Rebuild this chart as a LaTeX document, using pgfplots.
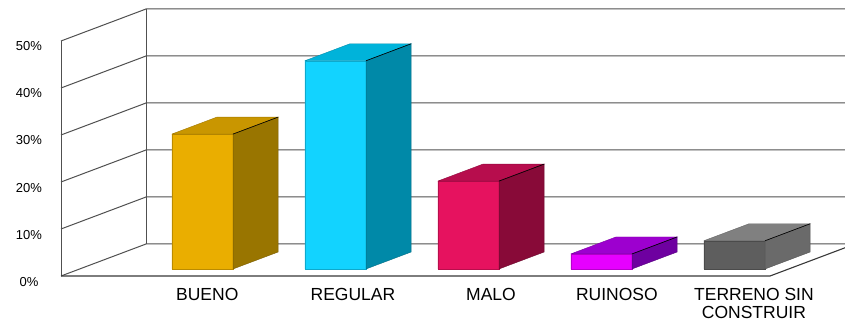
\documentclass[border=0pt]{standalone}
\usepackage{pgfplots}
\pgfplotsset{compat=1.18}
\usepackage{fontspec}
\setmainfont{Liberation Sans}
\newcommand{\cf}{\fontsize{17.5}{19}\selectfont}
\newcommand{\tf}{\fontsize{13}{15}\selectfont}
\definecolor{gridc}{RGB}{80,80,80}
\definecolor{aF}{RGB}{234,174,0}\definecolor{aT}{RGB}{201,150,0}\definecolor{aS}{RGB}{153,117,0}
\definecolor{bF}{RGB}{18,211,255}\definecolor{bT}{RGB}{0,179,218}\definecolor{bS}{RGB}{0,137,168}
\definecolor{cF}{RGB}{230,18,95}\definecolor{cT}{RGB}{183,13,77}\definecolor{cS}{RGB}{136,10,56}
\definecolor{dF}{RGB}{230,0,255}\definecolor{dT}{RGB}{157,0,207}\definecolor{dS}{RGB}{110,0,160}
\definecolor{eF}{RGB}{94,94,94}\definecolor{eT}{RGB}{128,128,128}\definecolor{eS}{RGB}{106,106,106}
\begin{document}
\begin{tikzpicture}
\path[use as bounding box] (0,0) rectangle (845pt,324pt);
\clip (0,0) rectangle (845pt,324pt);
\fill[white] (0,0) rectangle (845pt,324pt);
\begin{axis}[
  anchor=origin, at={(61pt,48pt)},
  x={(133pt,0pt)}, y={(85pt,32pt)}, z={(0pt,4.7pt)},
  xmin=0, xmax=5.331, ymin=0, ymax=1, zmin=0, zmax=50,
  hide axis, clip=false,
]
% walls and grid
\addplot3[gridc, line width=1pt] coordinates {(0,0,0) (0,1,0) (5.331,1,0)};
\addplot3[gridc, line width=1pt] coordinates {(0,0,10) (0,1,10) (5.331,1,10)};
\addplot3[gridc, line width=1pt] coordinates {(0,0,20) (0,1,20) (5.331,1,20)};
\addplot3[gridc, line width=1pt] coordinates {(0,0,30) (0,1,30) (5.331,1,30)};
\addplot3[gridc, line width=1pt] coordinates {(0,0,40) (0,1,40) (5.331,1,40)};
\addplot3[gridc, line width=1pt] coordinates {(0,0,50) (0,1,50) (5.331,1,50)};
\addplot3[gridc, line width=1pt] coordinates {(0,0,0) (0,0,50)};
\addplot3[gridc, line width=1pt] coordinates {(0,1,0) (0,1,50)};
\addplot3[gridc!70!black, line width=1.1pt] coordinates {(0,0,0) (5.331,0,0) (5.331,1,0)};
% tick labels
\node[anchor=base, font=\tf, xshift=-32pt, yshift=-10pt] at (axis cs:0,0,0) {0\%};
\node[anchor=base, font=\tf, xshift=-32pt, yshift=-10pt] at (axis cs:0,0,10) {10\%};
\node[anchor=base, font=\tf, xshift=-32pt, yshift=-10pt] at (axis cs:0,0,20) {20\%};
\node[anchor=base, font=\tf, xshift=-32pt, yshift=-10pt] at (axis cs:0,0,30) {30\%};
\node[anchor=base, font=\tf, xshift=-32pt, yshift=-10pt] at (axis cs:0,0,40) {40\%};
\node[anchor=base, font=\tf, xshift=-32pt, yshift=-10pt] at (axis cs:0,0,50) {50\%};
% BUENO 28.7
\addplot3[fill=aF, draw=aF!80!black, line width=0.4pt] coordinates {(0.693,0.22,0) (1.153,0.22,0) (1.153,0.22,28.7) (0.693,0.22,28.7) (0.693,0.22,0)};
\addplot3[fill=aT, draw=aT!80!black, line width=0.4pt] coordinates {(0.693,0.22,28.7) (1.153,0.22,28.7) (1.153,0.75,28.7) (0.693,0.75,28.7) (0.693,0.22,28.7)};
\addplot3[fill=aS, draw=aS!80!black, line width=0.4pt] coordinates {(1.153,0.22,0) (1.153,0.75,0) (1.153,0.75,28.7) (1.153,0.22,28.7) (1.153,0.22,0)};
\addplot3[black, line width=0.6pt] coordinates {(1.153,0.22,28.7) (1.153,0.75,28.7)};
% REGULAR 44.3
\addplot3[fill=bF, draw=bF!80!black, line width=0.4pt] coordinates {(1.693,0.22,0) (2.153,0.22,0) (2.153,0.22,44.3) (1.693,0.22,44.3) (1.693,0.22,0)};
\addplot3[fill=bT, draw=bT!80!black, line width=0.4pt] coordinates {(1.693,0.22,44.3) (2.153,0.22,44.3) (2.153,0.75,44.3) (1.693,0.75,44.3) (1.693,0.22,44.3)};
\addplot3[fill=bS, draw=bS!80!black, line width=0.4pt] coordinates {(2.153,0.22,0) (2.153,0.75,0) (2.153,0.75,44.3) (2.153,0.22,44.3) (2.153,0.22,0)};
\addplot3[black, line width=0.6pt] coordinates {(2.153,0.22,44.3) (2.153,0.75,44.3)};
% MALO 18.7
\addplot3[fill=cF, draw=cF!80!black, line width=0.4pt] coordinates {(2.693,0.22,0) (3.153,0.22,0) (3.153,0.22,18.7) (2.693,0.22,18.7) (2.693,0.22,0)};
\addplot3[fill=cT, draw=cT!80!black, line width=0.4pt] coordinates {(2.693,0.22,18.7) (3.153,0.22,18.7) (3.153,0.75,18.7) (2.693,0.75,18.7) (2.693,0.22,18.7)};
\addplot3[fill=cS, draw=cS!80!black, line width=0.4pt] coordinates {(3.153,0.22,0) (3.153,0.75,0) (3.153,0.75,18.7) (3.153,0.22,18.7) (3.153,0.22,0)};
\addplot3[black, line width=0.6pt] coordinates {(3.153,0.22,18.7) (3.153,0.75,18.7)};
% RUINOSO 3.2
\addplot3[fill=dF, draw=dF!80!black, line width=0.4pt] coordinates {(3.693,0.22,0) (4.153,0.22,0) (4.153,0.22,3.2) (3.693,0.22,3.2) (3.693,0.22,0)};
\addplot3[fill=dT, draw=dT!80!black, line width=0.4pt] coordinates {(3.693,0.22,3.2) (4.153,0.22,3.2) (4.153,0.75,3.2) (3.693,0.75,3.2) (3.693,0.22,3.2)};
\addplot3[fill=dS, draw=dS!80!black, line width=0.4pt] coordinates {(4.153,0.22,0) (4.153,0.75,0) (4.153,0.75,3.2) (4.153,0.22,3.2) (4.153,0.22,0)};
\addplot3[black, line width=0.6pt] coordinates {(4.153,0.22,3.2) (4.153,0.75,3.2)};
% TERRENO SIN CONSTRUIR 6.0
\addplot3[fill=eF, draw=eF!80!black, line width=0.4pt] coordinates {(4.693,0.22,0) (5.153,0.22,0) (5.153,0.22,6.0) (4.693,0.22,6.0) (4.693,0.22,0)};
\addplot3[fill=eT, draw=eT!80!black, line width=0.4pt] coordinates {(4.693,0.22,6.0) (5.153,0.22,6.0) (5.153,0.75,6.0) (4.693,0.75,6.0) (4.693,0.22,6.0)};
\addplot3[fill=eS, draw=eS!80!black, line width=0.4pt] coordinates {(5.153,0.22,0) (5.153,0.75,0) (5.153,0.75,6.0) (5.153,0.22,6.0) (5.153,0.22,0)};
\addplot3[black, line width=0.6pt] coordinates {(5.153,0.22,6.0) (5.153,0.75,6.0)};
% category labels
\node[anchor=base, font=\cf, yshift=-24pt] at (axis cs:1.100,0,0) {BUENO};
\node[anchor=base, font=\cf, yshift=-24pt] at (axis cs:2.195,0,0) {REGULAR};
\node[anchor=base, font=\cf, yshift=-24pt] at (axis cs:3.233,0,0) {MALO};
\node[anchor=base, font=\cf, yshift=-24pt] at (axis cs:4.180,0,0) {RUINOSO};
\node[anchor=base, font=\cf, yshift=-24pt] at (axis cs:5.210,0,0) {TERRENO SIN};
\node[anchor=base, font=\cf, yshift=-42.5pt] at (axis cs:5.210,0,0) {CONSTRUIR};
\end{axis}
\end{tikzpicture}
\end{document}
